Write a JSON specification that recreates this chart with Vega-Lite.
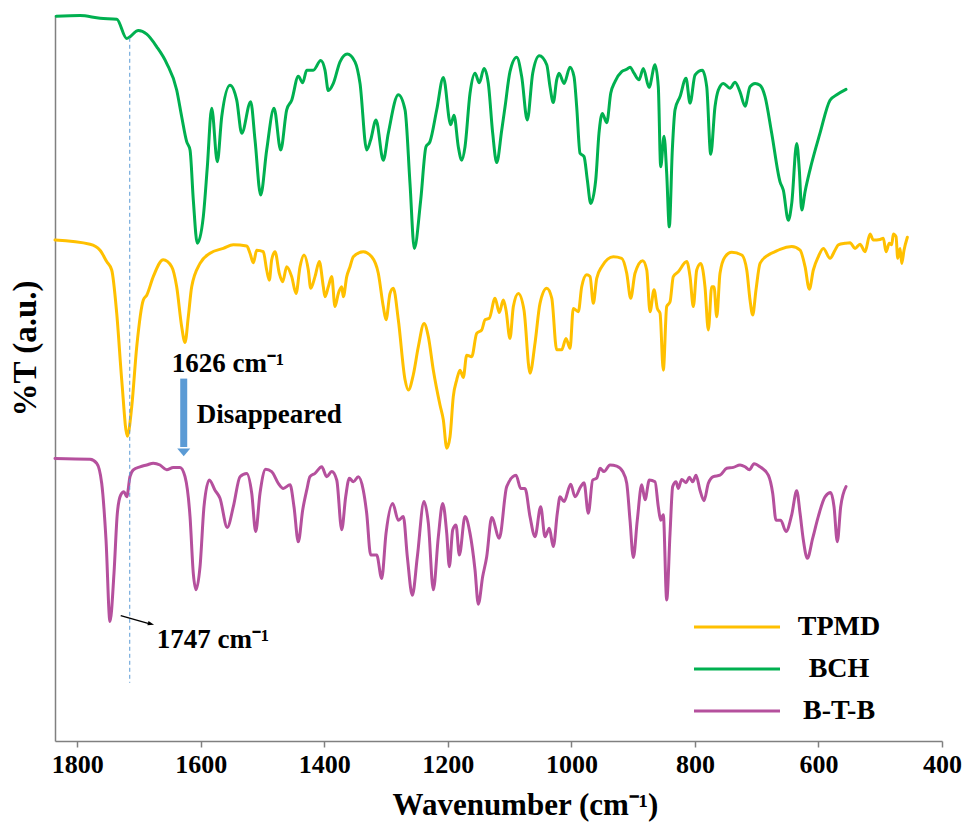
{
"$schema": "https://vega.github.io/schema/vega-lite/v6.json",
"autosize": {"type": "none"},
"padding": {"left": 55, "top": 15, "right": 29, "bottom": 82},
"width": 887,
"height": 726,
"background": "white",
"config": {"view": {"stroke": null}, "font": "Liberation Serif"},
"datasets": {
"spectra": [
{"s":"BCH","wn":1834,"T":120.8},{"s":"BCH","wn":1795.5,"T":120.9},{"s":"BCH","wn":1763,"T":120.45},{"s":"BCH","wn":1736,"T":120.3},{"s":"BCH","wn":1720,"T":117.1},{"s":"BCH","wn":1701,"T":118.4},{"s":"BCH","wn":1687.5,"T":117.8},{"s":"BCH","wn":1671.3,"T":115.7},{"s":"BCH","wn":1655.2,"T":112.95},{"s":"BCH","wn":1639,"T":108.5},{"s":"BCH","wn":1630.9,"T":104.05},{"s":"BCH","wn":1622.8,"T":99.9},{"s":"BCH","wn":1617.4,"T":98.5},{"s":"BCH","wn":1612.1,"T":90.2},{"s":"BCH","wn":1605.6,"T":82.95},{"s":"BCH","wn":1595.9,"T":87.4},{"s":"BCH","wn":1589.4,"T":95.7},{"s":"BCH","wn":1582.3,"T":105.45},{"s":"BCH","wn":1573.2,"T":96.55},{"s":"BCH","wn":1566.1,"T":104.05},{"s":"BCH","wn":1552.7,"T":109.3},{"s":"BCH","wn":1541.8,"T":106.8},{"s":"BCH","wn":1533.7,"T":101.3},{"s":"BCH","wn":1519.2,"T":106.55},{"s":"BCH","wn":1512.2,"T":100.2},{"s":"BCH","wn":1503,"T":91},{"s":"BCH","wn":1493.3,"T":98.5},{"s":"BCH","wn":1481.4,"T":105.45},{"s":"BCH","wn":1470.6,"T":98.5},{"s":"BCH","wn":1460.9,"T":105.2},{"s":"BCH","wn":1452.8,"T":106.8},{"s":"BCH","wn":1442.1,"T":110.8},{"s":"BCH","wn":1435,"T":109.7},{"s":"BCH","wn":1428.5,"T":111.8},{"s":"BCH","wn":1417.8,"T":111.8},{"s":"BCH","wn":1405.8,"T":113.4},{"s":"BCH","wn":1398.9,"T":111.8},{"s":"BCH","wn":1393.5,"T":108.4},{"s":"BCH","wn":1385.4,"T":109.6},{"s":"BCH","wn":1374.6,"T":113.2},{"s":"BCH","wn":1362.8,"T":114.5},{"s":"BCH","wn":1350.3,"T":113.2},{"s":"BCH","wn":1342.2,"T":109.6},{"s":"BCH","wn":1331.4,"T":98.5},{"s":"BCH","wn":1324.9,"T":100.2},{"s":"BCH","wn":1316.3,"T":103.5},{"s":"BCH","wn":1304.5,"T":96.8},{"s":"BCH","wn":1296.4,"T":101.3},{"s":"BCH","wn":1280.2,"T":107.7},{"s":"BCH","wn":1269.3,"T":105.2},{"s":"BCH","wn":1261.3,"T":92.95},{"s":"BCH","wn":1254.3,"T":82.1},{"s":"BCH","wn":1243.9,"T":90.2},{"s":"BCH","wn":1235.4,"T":99.05},{"s":"BCH","wn":1228.9,"T":99.9},{"s":"BCH","wn":1218,"T":105.2},{"s":"BCH","wn":1207.3,"T":110.6},{"s":"BCH","wn":1195.4,"T":102.7},{"s":"BCH","wn":1190,"T":104.3},{"s":"BCH","wn":1183.1,"T":99.05},{"s":"BCH","wn":1177.6,"T":96.8},{"s":"BCH","wn":1172.2,"T":99.05},{"s":"BCH","wn":1164.1,"T":107.95},{"s":"BCH","wn":1156,"T":111.3},{"s":"BCH","wn":1149.1,"T":109.7},{"s":"BCH","wn":1141.4,"T":112.1},{"s":"BCH","wn":1134.5,"T":109.6},{"s":"BCH","wn":1127.4,"T":101.3},{"s":"BCH","wn":1120.9,"T":96.4},{"s":"BCH","wn":1112.8,"T":101.8},{"s":"BCH","wn":1107.4,"T":105.7},{"s":"BCH","wn":1099.4,"T":111.55},{"s":"BCH","wn":1088.5,"T":113.95},{"s":"BCH","wn":1080.4,"T":110.7},{"s":"BCH","wn":1071.4,"T":103.5},{"s":"BCH","wn":1062.6,"T":111.3},{"s":"BCH","wn":1051.9,"T":114.2},{"s":"BCH","wn":1039.9,"T":112.7},{"s":"BCH","wn":1034.6,"T":109.05},{"s":"BCH","wn":1029.3,"T":106.4},{"s":"BCH","wn":1023.8,"T":110.2},{"s":"BCH","wn":1020,"T":111.3},{"s":"BCH","wn":1011.9,"T":109.6},{"s":"BCH","wn":1002.2,"T":112.3},{"s":"BCH","wn":995.7,"T":110.7},{"s":"BCH","wn":991.4,"T":105.7},{"s":"BCH","wn":986,"T":97.95},{"s":"BCH","wn":979.5,"T":97.4},{"s":"BCH","wn":974.2,"T":93.5},{"s":"BCH","wn":968.7,"T":89.6},{"s":"BCH","wn":960.6,"T":93.5},{"s":"BCH","wn":955.3,"T":101.3},{"s":"BCH","wn":949.9,"T":104.6},{"s":"BCH","wn":942.8,"T":103.05},{"s":"BCH","wn":936.3,"T":107.95},{"s":"BCH","wn":929.4,"T":109.9},{"s":"BCH","wn":918.5,"T":111.55},{"s":"BCH","wn":910.4,"T":111.95},{"s":"BCH","wn":905.1,"T":112.3},{"s":"BCH","wn":898.6,"T":111.3},{"s":"BCH","wn":890.5,"T":110.2},{"s":"BCH","wn":883.5,"T":112.1},{"s":"BCH","wn":874.3,"T":108.95},{"s":"BCH","wn":864.6,"T":112.7},{"s":"BCH","wn":859.3,"T":109.05},{"s":"BCH","wn":855.4,"T":95.7},{"s":"BCH","wn":850,"T":100.8},{"s":"BCH","wn":845.7,"T":94.6},{"s":"BCH","wn":841.5,"T":85.7},{"s":"BCH","wn":836.6,"T":98.5},{"s":"BCH","wn":832.2,"T":105.2},{"s":"BCH","wn":824.1,"T":107.4},{"s":"BCH","wn":814.4,"T":110.45},{"s":"BCH","wn":807.9,"T":106.3},{"s":"BCH","wn":799.8,"T":111},{"s":"BCH","wn":788,"T":111.8},{"s":"BCH","wn":780.9,"T":109.05},{"s":"BCH","wn":774.4,"T":97.8},{"s":"BCH","wn":767.5,"T":105.7},{"s":"BCH","wn":762.1,"T":108.5},{"s":"BCH","wn":754,"T":109.6},{"s":"BCH","wn":743.2,"T":108.8},{"s":"BCH","wn":735.1,"T":109.8},{"s":"BCH","wn":727,"T":108.2},{"s":"BCH","wn":718.9,"T":105.8},{"s":"BCH","wn":710.8,"T":109.05},{"s":"BCH","wn":702.7,"T":109.6},{"s":"BCH","wn":694.6,"T":109.3},{"s":"BCH","wn":686.5,"T":107.4},{"s":"BCH","wn":675.7,"T":101.3},{"s":"BCH","wn":662.2,"T":93.2},{"s":"BCH","wn":656.9,"T":91.8},{"s":"BCH","wn":648.8,"T":86.8},{"s":"BCH","wn":643.3,"T":89.6},{"s":"BCH","wn":635.2,"T":99.6},{"s":"BCH","wn":631,"T":95.2},{"s":"BCH","wn":627.1,"T":88.5},{"s":"BCH","wn":621.7,"T":91.55},{"s":"BCH","wn":613.7,"T":95.2},{"s":"BCH","wn":597.5,"T":101.3},{"s":"BCH","wn":581.3,"T":106.8},{"s":"BCH","wn":570.4,"T":107.7},{"s":"BCH","wn":555.4,"T":108.6},
{"s":"TPMD","wn":1836,"T":83.5},{"s":"TPMD","wn":1779.3,"T":82.8},{"s":"TPMD","wn":1763.1,"T":81.8},{"s":"TPMD","wn":1752.3,"T":79.9},{"s":"TPMD","wn":1744.2,"T":78.5},{"s":"TPMD","wn":1736.1,"T":71.3},{"s":"TPMD","wn":1728,"T":60.2},{"s":"TPMD","wn":1718.9,"T":50.8},{"s":"TPMD","wn":1711.8,"T":55.7},{"s":"TPMD","wn":1703.7,"T":65.7},{"s":"TPMD","wn":1693,"T":73.5},{"s":"TPMD","wn":1687.5,"T":74.3},{"s":"TPMD","wn":1676.9,"T":77.4},{"s":"TPMD","wn":1660.7,"T":80.2},{"s":"TPMD","wn":1647.1,"T":79.05},{"s":"TPMD","wn":1639,"T":75.7},{"s":"TPMD","wn":1630.9,"T":69.05},{"s":"TPMD","wn":1625.5,"T":66.4},{"s":"TPMD","wn":1620.2,"T":70.7},{"s":"TPMD","wn":1614.7,"T":75.7},{"s":"TPMD","wn":1601.2,"T":79.6},{"s":"TPMD","wn":1585,"T":81.3},{"s":"TPMD","wn":1563.5,"T":82.1},{"s":"TPMD","wn":1547.3,"T":82.7},{"s":"TPMD","wn":1525.6,"T":82.5},{"s":"TPMD","wn":1520.3,"T":81.3},{"s":"TPMD","wn":1514.9,"T":79.7},{"s":"TPMD","wn":1509.4,"T":81.8},{"s":"TPMD","wn":1498.8,"T":81.55},{"s":"TPMD","wn":1493.3,"T":78.5},{"s":"TPMD","wn":1489,"T":76.8},{"s":"TPMD","wn":1485.2,"T":80.2},{"s":"TPMD","wn":1479.8,"T":81.55},{"s":"TPMD","wn":1472.9,"T":77.95},{"s":"TPMD","wn":1467.4,"T":76.55},{"s":"TPMD","wn":1460.9,"T":79.05},{"s":"TPMD","wn":1452.8,"T":77.4},{"s":"TPMD","wn":1445.8,"T":74.6},{"s":"TPMD","wn":1439.3,"T":79.05},{"s":"TPMD","wn":1432.9,"T":81},{"s":"TPMD","wn":1425.9,"T":78.5},{"s":"TPMD","wn":1422,"T":75.45},{"s":"TPMD","wn":1415.1,"T":77.4},{"s":"TPMD","wn":1408.1,"T":79.9},{"s":"TPMD","wn":1401.6,"T":75.7},{"s":"TPMD","wn":1398.9,"T":74.05},{"s":"TPMD","wn":1393.5,"T":75.7},{"s":"TPMD","wn":1388,"T":77.4},{"s":"TPMD","wn":1382.7,"T":72.4},{"s":"TPMD","wn":1377.3,"T":74.6},{"s":"TPMD","wn":1371.8,"T":75.7},{"s":"TPMD","wn":1369.2,"T":74.05},{"s":"TPMD","wn":1363.7,"T":77.4},{"s":"TPMD","wn":1358.4,"T":79.05},{"s":"TPMD","wn":1353,"T":80.7},{"s":"TPMD","wn":1336.9,"T":81.55},{"s":"TPMD","wn":1323.3,"T":80.7},{"s":"TPMD","wn":1312.6,"T":77.95},{"s":"TPMD","wn":1304.5,"T":72.4},{"s":"TPMD","wn":1300.1,"T":70.2},{"s":"TPMD","wn":1293.6,"T":74.6},{"s":"TPMD","wn":1288.3,"T":75.45},{"s":"TPMD","wn":1280.2,"T":70.2},{"s":"TPMD","wn":1269.3,"T":60.2},{"s":"TPMD","wn":1264,"T":58.5},{"s":"TPMD","wn":1256,"T":61},{"s":"TPMD","wn":1247.8,"T":65.7},{"s":"TPMD","wn":1238.6,"T":69.6},{"s":"TPMD","wn":1231.6,"T":67.4},{"s":"TPMD","wn":1223.5,"T":61.8},{"s":"TPMD","wn":1212.7,"T":56},{"s":"TPMD","wn":1207.3,"T":53.5},{"s":"TPMD","wn":1201.8,"T":48.8},{"s":"TPMD","wn":1196.5,"T":50.7},{"s":"TPMD","wn":1191.2,"T":57.4},{"s":"TPMD","wn":1185.6,"T":60.2},{"s":"TPMD","wn":1180.3,"T":61.8},{"s":"TPMD","wn":1175,"T":60.6},{"s":"TPMD","wn":1169.5,"T":64.3},{"s":"TPMD","wn":1161.4,"T":64.05},{"s":"TPMD","wn":1153.3,"T":67.95},{"s":"TPMD","wn":1145.2,"T":68.5},{"s":"TPMD","wn":1139.8,"T":70.2},{"s":"TPMD","wn":1132.9,"T":70.45},{"s":"TPMD","wn":1123.6,"T":73.8},{"s":"TPMD","wn":1116.7,"T":71.4},{"s":"TPMD","wn":1110.2,"T":73.5},{"s":"TPMD","wn":1105.8,"T":71.8},{"s":"TPMD","wn":1099.4,"T":67.1},{"s":"TPMD","wn":1094,"T":72.4},{"s":"TPMD","wn":1085.9,"T":74.6},{"s":"TPMD","wn":1076.7,"T":71.8},{"s":"TPMD","wn":1067,"T":61.3},{"s":"TPMD","wn":1058.9,"T":66.3},{"s":"TPMD","wn":1050.8,"T":72.95},{"s":"TPMD","wn":1039.9,"T":75.45},{"s":"TPMD","wn":1031.8,"T":73.8},{"s":"TPMD","wn":1023.8,"T":65.2},{"s":"TPMD","wn":1015.7,"T":65.2},{"s":"TPMD","wn":1008.7,"T":67.1},{"s":"TPMD","wn":1002.2,"T":65.45},{"s":"TPMD","wn":996.9,"T":72.1},{"s":"TPMD","wn":988.8,"T":71.55},{"s":"TPMD","wn":983.3,"T":75.7},{"s":"TPMD","wn":975.2,"T":77.7},{"s":"TPMD","wn":969.8,"T":77.4},{"s":"TPMD","wn":964.5,"T":72.95},{"s":"TPMD","wn":959,"T":77.1},{"s":"TPMD","wn":950.9,"T":79.05},{"s":"TPMD","wn":932.1,"T":80.7},{"s":"TPMD","wn":918.5,"T":80.45},{"s":"TPMD","wn":910.4,"T":77.95},{"s":"TPMD","wn":904,"T":73.8},{"s":"TPMD","wn":897,"T":77.95},{"s":"TPMD","wn":884.5,"T":80.05},{"s":"TPMD","wn":878,"T":78.5},{"s":"TPMD","wn":872.7,"T":71.55},{"s":"TPMD","wn":866.2,"T":75.2},{"s":"TPMD","wn":860.9,"T":72.1},{"s":"TPMD","wn":856.5,"T":71.3},{"s":"TPMD","wn":851.2,"T":61.8},{"s":"TPMD","wn":845.7,"T":72.4},{"s":"TPMD","wn":840.3,"T":73.2},{"s":"TPMD","wn":835,"T":77.4},{"s":"TPMD","wn":826.9,"T":78.2},{"s":"TPMD","wn":813.3,"T":79.9},{"s":"TPMD","wn":807.9,"T":77.4},{"s":"TPMD","wn":802.6,"T":72.4},{"s":"TPMD","wn":797.1,"T":78.5},{"s":"TPMD","wn":790.6,"T":79.6},{"s":"TPMD","wn":783.7,"T":75.7},{"s":"TPMD","wn":778.3,"T":68.5},{"s":"TPMD","wn":772.8,"T":75.7},{"s":"TPMD","wn":769.1,"T":75.7},{"s":"TPMD","wn":764.7,"T":70.7},{"s":"TPMD","wn":759.4,"T":77.95},{"s":"TPMD","wn":751.3,"T":80.7},{"s":"TPMD","wn":740.4,"T":81.45},{"s":"TPMD","wn":724.2,"T":81},{"s":"TPMD","wn":716.1,"T":78.5},{"s":"TPMD","wn":710.8,"T":73.5},{"s":"TPMD","wn":706.5,"T":71},{"s":"TPMD","wn":701.1,"T":75.2},{"s":"TPMD","wn":694.6,"T":79.6},{"s":"TPMD","wn":681.2,"T":81},{"s":"TPMD","wn":670.3,"T":81.55},{"s":"TPMD","wn":662.2,"T":81.95},{"s":"TPMD","wn":643.3,"T":82.4},{"s":"TPMD","wn":629.8,"T":81.8},{"s":"TPMD","wn":621.7,"T":79.05},{"s":"TPMD","wn":614.8,"T":75.3},{"s":"TPMD","wn":608.3,"T":78.5},{"s":"TPMD","wn":600.3,"T":80.7},{"s":"TPMD","wn":592.1,"T":82.1},{"s":"TPMD","wn":581.3,"T":80.45},{"s":"TPMD","wn":573.2,"T":81.8},{"s":"TPMD","wn":567.8,"T":82.7},{"s":"TPMD","wn":557,"T":82.95},{"s":"TPMD","wn":548.9,"T":83.05},{"s":"TPMD","wn":540.8,"T":82.1},{"s":"TPMD","wn":532.7,"T":82.8},{"s":"TPMD","wn":524.6,"T":81.55},{"s":"TPMD","wn":516.5,"T":84.5},{"s":"TPMD","wn":511.2,"T":83.5},{"s":"TPMD","wn":500.3,"T":83.6},{"s":"TPMD","wn":495,"T":83.8},{"s":"TPMD","wn":490.6,"T":81.55},{"s":"TPMD","wn":485.3,"T":82.95},{"s":"TPMD","wn":481.4,"T":82.7},{"s":"TPMD","wn":478.8,"T":84.5},{"s":"TPMD","wn":474.4,"T":84.05},{"s":"TPMD","wn":471.7,"T":80.45},{"s":"TPMD","wn":467.9,"T":82.1},{"s":"TPMD","wn":465.2,"T":79.6},{"s":"TPMD","wn":461.5,"T":81.8},{"s":"TPMD","wn":456.1,"T":83.95},
{"s":"B-T-B","wn":1836,"T":47.1},{"s":"B-T-B","wn":1779.3,"T":46.95},{"s":"B-T-B","wn":1768.5,"T":46.3},{"s":"B-T-B","wn":1760.4,"T":42.95},{"s":"B-T-B","wn":1753.4,"T":33.5},{"s":"B-T-B","wn":1747,"T":19.9},{"s":"B-T-B","wn":1740.5,"T":27.95},{"s":"B-T-B","wn":1735.1,"T":37.95},{"s":"B-T-B","wn":1729.6,"T":41},{"s":"B-T-B","wn":1724.3,"T":41.55},{"s":"B-T-B","wn":1719.9,"T":40.7},{"s":"B-T-B","wn":1714.6,"T":44.05},{"s":"B-T-B","wn":1709.2,"T":45.2},{"s":"B-T-B","wn":1698.4,"T":45.7},{"s":"B-T-B","wn":1687.5,"T":46},{"s":"B-T-B","wn":1676.9,"T":46.3},{"s":"B-T-B","wn":1666,"T":46},{"s":"B-T-B","wn":1655.2,"T":45.2},{"s":"B-T-B","wn":1644.5,"T":45.6},{"s":"B-T-B","wn":1633.6,"T":45.6},{"s":"B-T-B","wn":1625.5,"T":44.05},{"s":"B-T-B","wn":1617.4,"T":37.4},{"s":"B-T-B","wn":1612.1,"T":27.95},{"s":"B-T-B","wn":1607.7,"T":25.2},{"s":"B-T-B","wn":1601.2,"T":29.05},{"s":"B-T-B","wn":1594.8,"T":39.05},{"s":"B-T-B","wn":1586.2,"T":43.5},{"s":"B-T-B","wn":1577,"T":41.8},{"s":"B-T-B","wn":1568.9,"T":40.45},{"s":"B-T-B","wn":1557.1,"T":35.6},{"s":"B-T-B","wn":1547.3,"T":39.05},{"s":"B-T-B","wn":1536.5,"T":44.05},{"s":"B-T-B","wn":1525.6,"T":44.6},{"s":"B-T-B","wn":1517.5,"T":41.3},{"s":"B-T-B","wn":1511.1,"T":34.9},{"s":"B-T-B","wn":1504.1,"T":41.3},{"s":"B-T-B","wn":1494.9,"T":45.3},{"s":"B-T-B","wn":1485.2,"T":44.9},{"s":"B-T-B","wn":1474.5,"T":42.95},{"s":"B-T-B","wn":1466.4,"T":42.1},{"s":"B-T-B","wn":1455.5,"T":42.7},{"s":"B-T-B","wn":1449.1,"T":39.05},{"s":"B-T-B","wn":1442.1,"T":33.2},{"s":"B-T-B","wn":1435,"T":38.5},{"s":"B-T-B","wn":1428.5,"T":41.8},{"s":"B-T-B","wn":1423.2,"T":44.05},{"s":"B-T-B","wn":1415.1,"T":44.6},{"s":"B-T-B","wn":1404.2,"T":45.7},{"s":"B-T-B","wn":1396.1,"T":44.05},{"s":"B-T-B","wn":1388,"T":44.9},{"s":"B-T-B","wn":1379.9,"T":43.5},{"s":"B-T-B","wn":1371.8,"T":35.2},{"s":"B-T-B","wn":1365.4,"T":40.7},{"s":"B-T-B","wn":1359.5,"T":43.8},{"s":"B-T-B","wn":1353,"T":43.2},{"s":"B-T-B","wn":1344.9,"T":44.05},{"s":"B-T-B","wn":1336.9,"T":41.8},{"s":"B-T-B","wn":1331.4,"T":37.95},{"s":"B-T-B","wn":1324.9,"T":31},{"s":"B-T-B","wn":1315.2,"T":31},{"s":"B-T-B","wn":1307.1,"T":27.1},{"s":"B-T-B","wn":1300.1,"T":34.6},{"s":"B-T-B","wn":1289.3,"T":39.6},{"s":"B-T-B","wn":1280.2,"T":36.8},{"s":"B-T-B","wn":1272.1,"T":37.4},{"s":"B-T-B","wn":1265.6,"T":30.7},{"s":"B-T-B","wn":1257.5,"T":24.3},{"s":"B-T-B","wn":1249.4,"T":30.7},{"s":"B-T-B","wn":1238.6,"T":39.9},{"s":"B-T-B","wn":1231.6,"T":36.3},{"s":"B-T-B","wn":1223.5,"T":25.2},{"s":"B-T-B","wn":1215.4,"T":34.05},{"s":"B-T-B","wn":1208.3,"T":39.6},{"s":"B-T-B","wn":1201.8,"T":34.6},{"s":"B-T-B","wn":1197.6,"T":29.05},{"s":"B-T-B","wn":1192.1,"T":35.2},{"s":"B-T-B","wn":1186.8,"T":36},{"s":"B-T-B","wn":1181.4,"T":31},{"s":"B-T-B","wn":1172.2,"T":37.4},{"s":"B-T-B","wn":1164.1,"T":34.6},{"s":"B-T-B","wn":1156,"T":28.5},{"s":"B-T-B","wn":1150.7,"T":22.8},{"s":"B-T-B","wn":1143.6,"T":27.4},{"s":"B-T-B","wn":1137.1,"T":30.7},{"s":"B-T-B","wn":1129,"T":37.25},{"s":"B-T-B","wn":1116.7,"T":33.8},{"s":"B-T-B","wn":1104.7,"T":42.4},{"s":"B-T-B","wn":1089.6,"T":44.3},{"s":"B-T-B","wn":1082,"T":42.1},{"s":"B-T-B","wn":1075.1,"T":42.1},{"s":"B-T-B","wn":1067,"T":37.4},{"s":"B-T-B","wn":1058.9,"T":34.05},{"s":"B-T-B","wn":1049.7,"T":39.05},{"s":"B-T-B","wn":1042.7,"T":34.05},{"s":"B-T-B","wn":1035.7,"T":35.45},{"s":"B-T-B","wn":1029.3,"T":32.4},{"s":"B-T-B","wn":1022.8,"T":37.95},{"s":"B-T-B","wn":1018.4,"T":40.7},{"s":"B-T-B","wn":1011.9,"T":39.9},{"s":"B-T-B","wn":1001.1,"T":42.8},{"s":"B-T-B","wn":994.1,"T":40.7},{"s":"B-T-B","wn":984.9,"T":42.4},{"s":"B-T-B","wn":979.5,"T":43.05},{"s":"B-T-B","wn":972.6,"T":37.95},{"s":"B-T-B","wn":965.5,"T":43.5},{"s":"B-T-B","wn":959,"T":43.8},{"s":"B-T-B","wn":953.6,"T":45.45},{"s":"B-T-B","wn":947.2,"T":44.9},{"s":"B-T-B","wn":937.5,"T":46},{"s":"B-T-B","wn":926.6,"T":45.8},{"s":"B-T-B","wn":916.9,"T":44.9},{"s":"B-T-B","wn":910.4,"T":42.95},{"s":"B-T-B","wn":905.1,"T":36.8},{"s":"B-T-B","wn":899.7,"T":30.6},{"s":"B-T-B","wn":893.3,"T":36.8},{"s":"B-T-B","wn":886.1,"T":42.7},{"s":"B-T-B","wn":880.8,"T":40.2},{"s":"B-T-B","wn":873.8,"T":43.5},{"s":"B-T-B","wn":864.6,"T":43.2},{"s":"B-T-B","wn":859.3,"T":39.05},{"s":"B-T-B","wn":855.4,"T":36.8},{"s":"B-T-B","wn":851.2,"T":37.7},{"s":"B-T-B","wn":845.7,"T":23.5},{"s":"B-T-B","wn":840.3,"T":34.6},{"s":"B-T-B","wn":836,"T":42.4},{"s":"B-T-B","wn":830.6,"T":43.2},{"s":"B-T-B","wn":826.9,"T":42.1},{"s":"B-T-B","wn":821.4,"T":43.6},{"s":"B-T-B","wn":814.4,"T":43.05},{"s":"B-T-B","wn":809.1,"T":43.95},{"s":"B-T-B","wn":803.6,"T":43.2},{"s":"B-T-B","wn":798.2,"T":44.3},{"s":"B-T-B","wn":791.8,"T":41.8},{"s":"B-T-B","wn":785.3,"T":40.05},{"s":"B-T-B","wn":778.3,"T":42.95},{"s":"B-T-B","wn":770.2,"T":44.05},{"s":"B-T-B","wn":759.4,"T":44.3},{"s":"B-T-B","wn":748.5,"T":45.45},{"s":"B-T-B","wn":737.8,"T":45.6},{"s":"B-T-B","wn":727,"T":46},{"s":"B-T-B","wn":718.9,"T":45.7},{"s":"B-T-B","wn":711.9,"T":45.2},{"s":"B-T-B","wn":704.3,"T":46.2},{"s":"B-T-B","wn":694.6,"T":45.7},{"s":"B-T-B","wn":681.2,"T":44.3},{"s":"B-T-B","wn":674.1,"T":41.3},{"s":"B-T-B","wn":668.7,"T":36.8},{"s":"B-T-B","wn":661.1,"T":36.8},{"s":"B-T-B","wn":652.5,"T":34.9},{"s":"B-T-B","wn":643.3,"T":37.7},{"s":"B-T-B","wn":635.2,"T":41.7},{"s":"B-T-B","wn":629.8,"T":37.95},{"s":"B-T-B","wn":624.5,"T":33.5},{"s":"B-T-B","wn":618,"T":30.45},{"s":"B-T-B","wn":609.3,"T":33.8},{"s":"B-T-B","wn":600.3,"T":37.4},{"s":"B-T-B","wn":589.4,"T":40.7},{"s":"B-T-B","wn":580.1,"T":41.4},{"s":"B-T-B","wn":574.8,"T":39.05},{"s":"B-T-B","wn":569.5,"T":33.2},{"s":"B-T-B","wn":564,"T":39.05},{"s":"B-T-B","wn":555.4,"T":42.4}
]
},
"encoding": {
"x": {"field": "wn", "type": "quantitative",
 "scale": {"domain": [400, 1836], "reverse": true, "nice": false, "zero": false},
 "axis": {"title": "Wavenumber (cm⁻¹)", "values": [1800,1600,1400,1200,1000,800,600,400], "format": "d", "grid": false,
  "domainColor": "#808080", "domainWidth": 1.5, "tickColor": "#808080", "tickWidth": 1.5, "tickSize": 6,
  "labelFont": "Liberation Serif", "labelFontWeight": "bold", "labelFontSize": 26, "labelColor": "#000000", "labelPadding": 4, "labelDx": 8, "labelFlush": false, "labelOverlap": false,
  "titleFont": "Liberation Serif", "titleFontWeight": "bold", "titleFontSize": 31, "titleColor": "#000000",
  "titleX": 470, "titleY": 64, "titleBaseline": "middle", "titleAlign": "center"}},
"y": {"field": "T", "type": "quantitative",
 "scale": {"domain": [0, 121], "nice": false, "zero": false},
 "axis": {"title": "%T (a.u.)", "labels": false, "ticks": false, "grid": false,
  "domainColor": "#808080", "domainWidth": 1.5,
  "titleFont": "Liberation Serif", "titleFontWeight": "bold", "titleFontSize": 33, "titleColor": "#000000",
  "titleX": -30, "titleY": 333, "titleAngle": -90, "titleBaseline": "middle", "titleAlign": "center"}}
},
"layer": [
{"data": {"name": "spectra"},
 "mark": {"type": "line", "strokeWidth": 3, "interpolate": "monotone", "strokeJoin": "round", "strokeCap": "round"},
 "encoding": {
  "color": {"field": "s", "type": "nominal",
   "scale": {"domain": ["TPMD", "BCH", "B-T-B"], "range": ["#FFC000", "#00B050", "#B5509D"]},
   "legend": {"orient": "none", "legendX": 666, "legendY": 596, "title": null, "padding": 0,
    "symbolType": "M-3,0L3,0", "symbolSize": 822, "symbolStrokeWidth": 3,
    "labelFont": "Liberation Serif", "labelFontWeight": "bold", "labelFontSize": 28, "labelColor": "#000000",
    "labelAlign": "center", "labelOffset": 86, "rowPadding": 12, "labelLimit": 300}}
 }},
{"data": {"values": [{"wn": 1715, "T": 117.2, "T2": 9.7}]},
 "mark": {"type": "rule", "color": "#5B9BD5", "strokeWidth": 1, "strokeDash": [4, 3]},
 "encoding": {"y2": {"field": "T2"}}},
{"data": {"values": [{"wn": 1627.6, "T": 60.4, "T2": 49}]},
 "mark": {"type": "rule", "color": "#5B9BD5", "strokeWidth": 7},
 "encoding": {"y2": {"field": "T2"}}},
{"data": {"values": [{"wn": 1627.6, "T": 48.1}]},
 "mark": {"type": "point", "shape": "M-1,-0.6L1,-0.6L0,0.6Z", "filled": true, "color": "#5B9BD5", "opacity": 1, "size": 169},
 "encoding": {}},
{"data": {"values": [{"wn": 1729.6, "T": 20.9, "wn2": 1685.4, "T2": 19.6}]},
 "mark": {"type": "rule", "color": "#000000", "strokeWidth": 1.5},
 "encoding": {"x2": {"field": "wn2"}, "y2": {"field": "T2"}}},
{"data": {"values": [{"wn": 1680.6, "T": 19.5}]},
 "mark": {"type": "point", "shape": "M-1,-0.7L1,0L-1,0.7Z", "filled": true, "color": "#000000", "opacity": 1, "size": 40, "angle": 15},
 "encoding": {}},
{"data": {"values": [
  {"wn": 1647, "T": 61.5, "label": "1626 cm⁻¹"},
  {"wn": 1606.6, "T": 53, "label": "Disappeared"},
  {"wn": 1671.3, "T": 15.5, "label": "1747 cm⁻¹"}]},
 "mark": {"type": "text", "align": "left", "baseline": "alphabetic", "font": "Liberation Serif", "fontWeight": "bold", "fontSize": 27, "color": "#000000"},
 "encoding": {"text": {"field": "label"}}}
]
}
